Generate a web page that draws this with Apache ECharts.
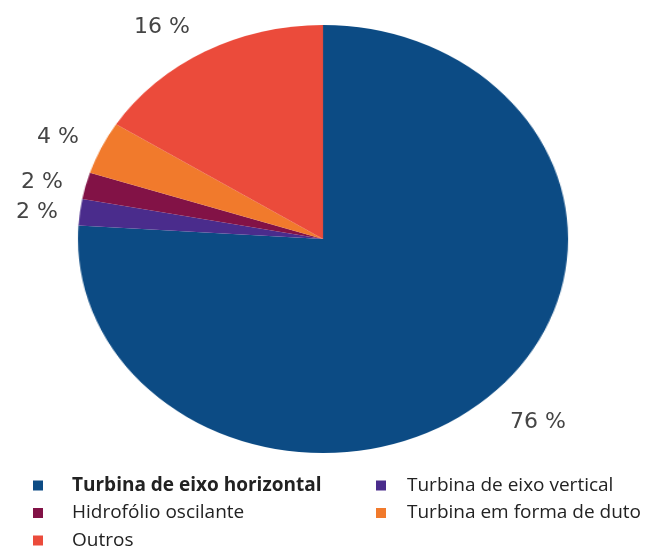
<!DOCTYPE html>
<html>
<head>
<meta charset="utf-8">
<script src="https://cdn.jsdelivr.net/npm/echarts@6/dist/echarts.min.js"></script>
<style>
  html, body { margin: 0; padding: 0; background: #ffffff; }
  #wrap { position: relative; width: 655px; height: 551px; overflow: hidden; }
  #pie, #overlay { position: absolute; left: 0; top: 0; width: 655px; height: 551px; }
  /* the disc is drawn as a circle and stretched horizontally into an ellipse */
  #pie { transform-origin: 323px 239px; transform: scaleX(1.145); }
</style>
</head>
<body>
<div id="wrap">
  <div id="pie"></div>
  <div id="overlay"></div>
</div>
<script>
// Share of each device type (percent)
const categories = [
  'Turbina de eixo horizontal',
  'Turbina de eixo vertical',
  'Hidrofólio oscilante',
  'Turbina em forma de duto',
  'Outros'
];
const shares = [76, 2, 2, 4, 16];
const colors = ['#0c4b84', '#4a2c8c', '#821246', '#f17a2c', '#eb4b3b'];

// where each percentage label sits (px)
const labelPos = [[538, 422], [37, 212], [42, 182], [58, 137], [162, 27]];

const pieData = categories.map((name, i) => ({
  name: name,
  value: shares[i],
  itemStyle: { color: colors[i] }
}));

const CENTER = [323, 239];
const RADIUS = 214;

// ---- the disc ----
const pieChart = echarts.init(document.getElementById('pie'), null, { renderer: 'canvas' });
pieChart.setOption({
  animation: false,
  series: [{
    type: 'pie',
    center: CENTER,
    radius: RADIUS,
    startAngle: 90,
    clockwise: true,
    silent: true,
    label: { show: false },
    labelLine: { show: false },
    data: pieData
  }]
});

// ---- labels and legend (unstretched text) ----
const overlay = echarts.init(document.getElementById('overlay'), null, { renderer: 'canvas' });
const legendText = {
  fontFamily: 'Open Sans',
  fontSize: 19,
  color: '#222222',
  lineHeight: 19
};
const legendItem = (i, bold) => ({
  name: categories[i],
  itemStyle: { color: colors[i] },
  textStyle: bold ? { fontWeight: 'bold' } : {}
});
const legendBase = {
  orient: 'vertical',
  top: 476,
  height: 75,
  padding: 0,
  itemWidth: 10,
  itemHeight: 10,
  itemGap: 8.5,
  icon: 'rect',
  selectedMode: false
};
overlay.setOption({
  animation: false,
  legend: [
    Object.assign({}, legendBase, {
      left: 33,
      textStyle: Object.assign({ padding: [0, 0, 0, 24] }, legendText),
      data: [legendItem(0, true), legendItem(2), legendItem(4)]
    }),
    Object.assign({}, legendBase, {
      left: 376,
      textStyle: Object.assign({ padding: [0, 0, 0, 16] }, legendText),
      data: [legendItem(1), legendItem(3)]
    })
  ],
  series: [{
    type: 'pie',
    center: CENTER,
    radius: RADIUS,
    startAngle: 90,
    clockwise: true,
    silent: true,
    avoidLabelOverlap: false,
    minShowLabelAngle: 0,
    itemStyle: { color: 'rgba(0,0,0,0)' },
    labelLine: { show: false },
    label: {
      show: true,
      position: 'outside',
      formatter: p => p.value + ' %',
      fontFamily: 'DejaVu Sans',
      fontSize: 22,
      color: '#454545'
    },
    labelLayout: p => ({
      x: labelPos[p.dataIndex][0],
      y: labelPos[p.dataIndex][1],
      align: 'center',
      verticalAlign: 'middle'
    }),
    data: categories.map((name, i) => ({ name: name, value: shares[i] }))
  }]
});
</script>
</body>
</html>
